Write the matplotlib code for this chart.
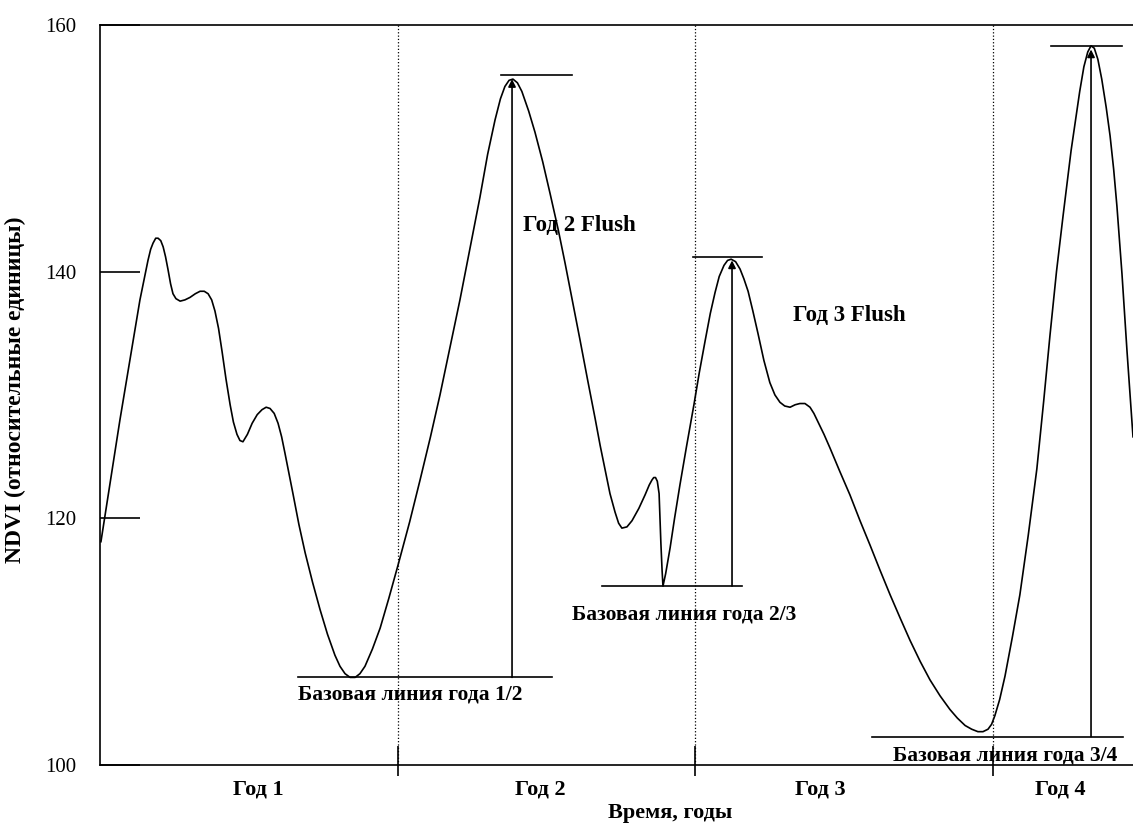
import numpy as np
import matplotlib.pyplot as plt

plt.rcParams['font.family'] = ['Liberation Serif', 'DejaVu Serif']

# NDVI curve (x in years, y in relative units)
t = [0.003, 0.067, 0.134, 0.161, 0.170, 0.178, 0.187, 0.195, 0.204, 0.212,
     0.220, 0.228, 0.237, 0.245, 0.255, 0.269, 0.285, 0.302, 0.320, 0.336,
     0.350, 0.363, 0.375, 0.386, 0.398, 0.410, 0.423, 0.437, 0.448, 0.460,
     0.470, 0.480, 0.495, 0.511, 0.528, 0.544, 0.558, 0.571, 0.585, 0.598,
     0.610, 0.621, 0.635, 0.648, 0.668, 0.689, 0.714, 0.739, 0.764, 0.789,
     0.806, 0.823, 0.840, 0.857, 0.873, 0.890, 0.915, 0.941, 0.970, 1.001,
     1.040, 1.075, 1.110, 1.142, 1.175, 1.209, 1.243, 1.276, 1.302, 1.327,
     1.345, 1.360, 1.374, 1.387, 1.402, 1.417, 1.440, 1.461, 1.487, 1.512,
     1.540, 1.562, 1.587, 1.612, 1.638, 1.663, 1.680, 1.696, 1.713, 1.730,
     1.742, 1.753, 1.770, 1.787, 1.810, 1.831, 1.845, 1.854, 1.860, 1.866,
     1.872, 1.878, 1.881, 1.884, 1.888, 1.891, 1.900, 1.915, 1.930, 1.948,
     1.970, 1.995, 2.013, 2.032, 2.050, 2.066, 2.080, 2.096, 2.108, 2.120,
     2.135, 2.150, 2.163, 2.177, 2.193, 2.210, 2.230, 2.250, 2.267, 2.284,
     2.300, 2.318, 2.335, 2.351, 2.368, 2.385, 2.398, 2.412, 2.432, 2.452,
     2.485, 2.519, 2.553, 2.587, 2.620, 2.654, 2.688, 2.721, 2.755, 2.788,
     2.822, 2.855, 2.880, 2.906, 2.928, 2.949, 2.966, 2.983, 2.995, 3.006,
     3.022, 3.040, 3.065, 3.090, 3.118, 3.147, 3.170, 3.191, 3.213, 3.235,
     3.262, 3.291, 3.305, 3.318, 3.329, 3.340, 3.352, 3.365, 3.380, 3.393,
     3.405, 3.416, 3.433, 3.450, 3.470]
ndvi = [118.1, 128.0, 137.7, 140.9, 141.8, 142.3, 142.7, 142.7, 142.5, 142.0,
        141.2, 140.2, 139.0, 138.2, 137.8, 137.6, 137.7, 137.9, 138.2, 138.4,
        138.4, 138.2, 137.7, 136.8, 135.4, 133.5, 131.3, 129.2, 127.8, 126.8,
        126.3, 126.2, 126.8, 127.7, 128.4, 128.8, 129.0, 128.9, 128.5, 127.7,
        126.6, 125.3, 123.6, 122.0, 119.5, 117.2, 114.8, 112.6, 110.6, 108.9,
        108.0, 107.4, 107.1, 107.1, 107.4, 108.0, 109.4, 111.1, 113.5, 116.2,
        119.7, 123.1, 126.6, 130.0, 133.8, 137.7, 141.9, 146.0, 149.5, 152.3,
        154.0, 155.0, 155.5, 155.6, 155.3, 154.6, 153.0, 151.3, 148.9, 146.3,
        143.3, 140.7, 137.6, 134.5, 131.2, 128.1, 125.9, 124.0, 122.0, 120.5,
        119.6, 119.2, 119.3, 119.8, 120.8, 121.9, 122.7, 123.1, 123.3, 123.3,
        123.0, 122.0, 120.0, 118.0, 115.8, 114.5, 115.5, 117.6, 120.0, 122.7,
        125.8, 129.2, 131.8, 134.3, 136.6, 138.3, 139.6, 140.5, 140.9, 141.0,
        140.8, 140.2, 139.4, 138.4, 136.8, 135.0, 132.8, 131.0, 130.0, 129.4,
        129.1, 129.0, 129.2, 129.3, 129.3, 129.0, 128.5, 127.8, 126.8, 125.7,
        123.8, 121.9, 119.8, 117.8, 115.8, 113.8, 111.9, 110.1, 108.4, 106.9,
        105.6, 104.5, 103.8, 103.2, 102.9, 102.7, 102.7, 102.9, 103.3, 104.0,
        105.3, 107.2, 110.4, 113.8, 118.6, 124.0, 129.5, 134.8, 140.0, 144.5,
        149.8, 154.6, 156.6, 157.8, 158.3, 158.1, 157.2, 155.6, 153.3, 151.0,
        148.3, 145.3, 139.8, 133.5, 126.6]

year_bounds = [1, 2, 3]
year_labels = ['Год 1', 'Год 2', 'Год 3', 'Год 4']
year_label_x = [0.531, 1.478, 2.419, 3.225]
yticks = [100, 120, 140, 160]

# baseline / flush annotations
arrow_x = [1.384, 2.123, 3.329]
base_y = [107.1, 114.5, 102.3]
base_from = [0.665, 1.686, 2.593]
base_to = [1.518, 2.157, 3.436]
peak_y = [155.9, 141.2, 158.3]
peak_from = [1.347, 1.992, 3.194]
peak_to = [1.585, 2.224, 3.433]
base_labels = ['Базовая линия года 1/2', 'Базовая линия года 2/3',
               'Базовая линия года 3/4']
base_label_pos = [(0.665, 105.7), (1.585, 112.2), (2.664, 100.8)]
flush_labels = ['Год 2 Flush', 'Год 3 Flush']
flush_pos = [(1.421, 143.7), (2.328, 136.4)]

fig = plt.figure(figsize=(11.33, 8.27), dpi=100)
ax = fig.add_axes([0.0883, 0.075, 0.9117, 0.895])

ax.plot(t, ndvi, color='black', lw=1.2)

for xb in year_bounds:
    ax.axvline(xb, color='black', ls=':', lw=0.9)

for i in range(3):
    ax.plot([base_from[i], base_to[i]], [base_y[i], base_y[i]], color='black', lw=1.2)
    ax.plot([peak_from[i], peak_to[i]], [peak_y[i], peak_y[i]], color='black', lw=1.2)
    ax.annotate('', xy=(arrow_x[i], peak_y[i] - 0.3), xytext=(arrow_x[i], base_y[i]),
                arrowprops=dict(arrowstyle='-|>', color='black', lw=1.2,
                                mutation_scale=11, shrinkA=0, shrinkB=0))
    ax.text(base_label_pos[i][0], base_label_pos[i][1], base_labels[i],
            fontsize=15.5, fontweight='bold', va='center', ha='left')

for lbl, (px, py) in zip(flush_labels, flush_pos):
    ax.text(px, py, lbl, fontsize=16.5, fontweight='bold', va='center', ha='left')

ax.set_xlim(0, 3.47)
ax.set_ylim(100, 160)

ax.set_yticks(yticks)
ax.tick_params(axis='y', direction='in', length=29, width=1.2, pad=17, labelsize=15)

ax.set_xticks(year_bounds)
ax.set_xticklabels([])
ax.set_xticks(year_bounds, minor=True)
ax.xaxis.remove_overlapping_locs = False
ax.tick_params(axis='x', which='major', direction='in', length=14, width=1.2)
ax.tick_params(axis='x', which='minor', direction='out', length=8, width=1.2)

for lx, lbl in zip(year_label_x, year_labels):
    ax.text(lx, 98.0, lbl, fontsize=16, fontweight='bold', ha='center', va='center')

ax.spines['right'].set_visible(False)
for s in ['left', 'bottom', 'top']:
    ax.spines[s].set_linewidth(1.2)

fig.text(670 / 1133, 1 - 813 / 827, 'Время, годы', fontsize=16, fontweight='bold',
         ha='center', va='center')
fig.text(15 / 1133, 1 - 390 / 827, 'NDVI (относительные единицы)', fontsize=17,
         fontweight='bold', rotation=90, ha='center', va='center')

fig.savefig('out.png', dpi=100)
